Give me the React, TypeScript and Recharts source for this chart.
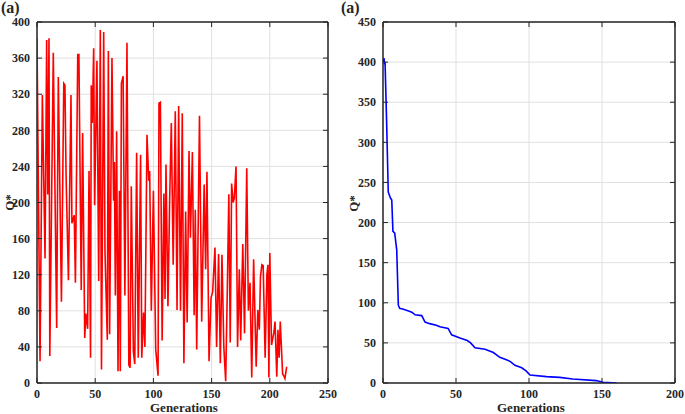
import React from "react";
import { LineChart, Line, XAxis, YAxis, CartesianGrid, ReferenceLine } from "recharts";

// left panel: red trace, Q* per generation
const leftGen = [
  0, 2.6, 4.6, 6.9, 8.3, 9.2, 10.3, 11, 14, 16.9, 18.3, 21, 23, 24, 25, 27, 29.2, 30, 32, 33,
  35, 36, 38, 39.2, 41, 42, 43.5, 44.7, 46, 46.6, 47.5, 48.7, 49.5, 51.5, 53, 54.4, 55.4, 57.3, 58.4, 60.4,
  61.3, 62.4, 64.4, 65.8, 66.5, 67.3, 68.4, 69.6, 70.8, 71.6, 72.5, 74, 75.5, 77.3, 78.9, 80, 81, 82.8, 84, 85.6,
  87, 89, 90, 91.5, 92.7, 94.5, 96, 96.8, 98.2, 100, 102, 104, 104.8, 106, 107.5, 109, 110, 110.8, 112.5, 114,
  115.4, 117, 118.8, 120.3, 121.7, 123.3, 124.8, 126.2, 127.7, 129, 130.6, 131.8, 133.5, 135, 136, 137.2, 139.6, 141.5, 143.6, 144.9,
  146, 147.8, 149.5, 150.9, 152.9, 154.3, 156, 157.5, 158.9, 160.5, 162.1, 163.5, 164.8, 166, 167.2, 168.5, 169.5, 171, 172.3, 173.8,
  175, 176.8, 178.3, 180.2, 181.6, 183, 184.5, 186.1, 188.3, 189.7, 191, 192, 193.2, 194.3, 196, 197.5, 198.4, 199.2, 200, 201.5,
  203.5, 204.5, 206, 207, 208, 209, 211, 212, 213, 214.5,
];
const leftQ = [
  382, 24, 319, 138, 380, 209, 382, 30, 366, 61, 339, 90, 332, 330, 229, 114, 319, 177, 186, 111,
  364, 364, 103, 277, 50, 77, 60, 235, 28, 330, 288, 371, 197, 357, 113, 391, 15, 389, 146, 48,
  368, 54, 360, 202, 245, 97, 279, 13, 213, 13, 332, 340, 97, 377, 20, 17, 218, 35, 21, 255,
  28, 253, 28, 78, 40, 275, 224, 235, 80, 213, 37, 8, 310, 311, 47, 210, 93, 242, 85, 205,
  288, 131, 301, 81, 307, 80, 299, 22, 190, 67, 257, 161, 256, 75, 192, 37, 296, 68, 220, 126,
  234, 24, 94, 101, 150, 40, 143, 22, 142, 40, 2, 103, 209, 45, 221, 200, 205, 240, 40, 126,
  47, 154, 55, 238, 80, 111, 6, 137, 18, 81, 59, 118, 131, 130, 28, 120, 131, 6, 144, 42,
  56, 68, 7, 59, 28, 68, 10, 8, 5, 18,
];

// right panel: blue trace, best Q* so far
const rightGen = [
  0, 0.7, 1, 1.4, 2.5, 3.6, 5, 6, 6.8, 8, 9.4, 10.5, 11.4, 14, 18.5, 20, 22, 26.5, 28.8, 32,
  36.5, 39, 44.6, 47, 52.7, 57.7, 60, 63, 69.9, 75.6, 80, 84.5, 87, 90.4, 95, 98, 100.7, 112, 121, 130,
  146, 150.7, 160,
];
const rightQ = [
  400, 405, 397, 400, 324, 238, 231, 228, 189, 187, 166, 97, 93, 92, 89, 88, 85, 84, 76, 74,
  72, 70, 68, 60, 56, 53, 50, 44, 42, 38, 32, 29, 27, 22, 19, 15, 10, 8, 7, 5,
  3, 1, 0,
];

const leftXTicks = [0, 50, 100, 150, 200, 250];
const leftYTicks = [0, 40, 80, 120, 160, 200, 240, 280, 320, 360, 400];
const rightXTicks = [0, 50, 100, 150, 200];
const rightYTicks = [0, 50, 100, 150, 200, 250, 300, 350, 400, 450];

const leftData = leftGen.map((g, i) => ({ g, q: leftQ[i] }));
const rightData = rightGen.map((g, i) => ({ g, q: rightQ[i] }));

const FONT = "'Liberation Serif', 'Times New Roman', serif";
const tickStyle = { fontSize: 12, fontWeight: "bold", fill: "#262626", fontFamily: FONT };
const AXIS = "#262626";
const noLabel = () => <g />;

function Panel({ data, xTicks, yTicks, xMax, yMax, color, width, leftW, rightW }: any) {
  return (
    <LineChart width={width} height={414} data={data} margin={{ top: 0, right: 0, bottom: 0, left: 0 }}>
      <CartesianGrid stroke="#e0e0e0" strokeWidth={1} />
      <XAxis
        dataKey="g"
        type="number"
        domain={[0, xMax]}
        ticks={xTicks}
        allowDataOverflow
        height={31}
        stroke={AXIS}
        tickSize={-5}
        tickMargin={11}
        tick={tickStyle}
      />
      <XAxis
        xAxisId="top"
        orientation="top"
        dataKey="g"
        type="number"
        domain={[0, xMax]}
        ticks={xTicks}
        allowDataOverflow
        height={22}
        stroke={AXIS}
        tickSize={-5}
        tick={noLabel}
      />
      <YAxis
        type="number"
        domain={[0, yMax]}
        ticks={yTicks}
        allowDataOverflow
        width={leftW}
        stroke={AXIS}
        tickSize={-5}
        tickMargin={12}
        tick={tickStyle}
      />
      <YAxis
        yAxisId="right"
        orientation="right"
        type="number"
        domain={[0, yMax]}
        ticks={yTicks}
        allowDataOverflow
        width={rightW}
        stroke={AXIS}
        tickSize={-5}
        tick={noLabel}
      />
      {/* dark frame drawn over the light grid */}
      <ReferenceLine y={yMax} stroke={AXIS} strokeWidth={1} ifOverflow="visible" />
      <ReferenceLine x={xMax} stroke={AXIS} strokeWidth={1} ifOverflow="visible" />
      <ReferenceLine y={0} stroke={AXIS} strokeWidth={1} ifOverflow="visible" />
      <ReferenceLine x={0} stroke={AXIS} strokeWidth={1} ifOverflow="visible" />
      <Line
        type="linear"
        dataKey="q"
        stroke={color}
        strokeWidth={1.6}
        dot={false}
        isAnimationActive={false}
      />
    </LineChart>
  );
}

const txt: React.CSSProperties = {
  position: "absolute",
  fontFamily: FONT,
  fontWeight: "bold",
  color: "#262626",
  whiteSpace: "nowrap",
  lineHeight: "13px",
};

const layer: React.CSSProperties = { position: "absolute", top: 0 };

export default function App() {
  return (
    <div style={{ position: "absolute", left: 0, top: 0, width: 685, height: 414, background: "#fff" }}>
      <div style={{ ...layer, left: 0 }}>
        <Panel
          data={leftData}
          xTicks={leftXTicks}
          yTicks={leftYTicks}
          xMax={250}
          yMax={400}
          color="#ff0000"
          width={340}
          leftW={37}
          rightW={12}
        />
      </div>
      <div style={{ ...layer, left: 340 }}>
        <Panel
          data={rightData}
          xTicks={rightXTicks}
          yTicks={rightYTicks}
          xMax={200}
          yMax={450}
          color="#0000ff"
          width={345}
          leftW={43}
          rightW={10}
        />
      </div>

      <div style={{ ...txt, left: 1, top: 0, fontSize: 16, lineHeight: "16px" }}>(a)</div>
      <div style={{ ...txt, left: 341, top: 0, fontSize: 16, lineHeight: "16px" }}>(a)</div>

      <div style={{ ...txt, left: 150, top: 401, fontSize: 13 }}>Generations</div>
      <div style={{ ...txt, left: 497, top: 401, fontSize: 13 }}>Generations</div>

      <div style={{ ...txt, left: 1, top: 196, fontSize: 13, transform: "rotate(-90deg)" }}>Q*</div>
      <div style={{ ...txt, left: 345, top: 197, fontSize: 13, transform: "rotate(-90deg)" }}>Q*</div>
    </div>
  );
}
